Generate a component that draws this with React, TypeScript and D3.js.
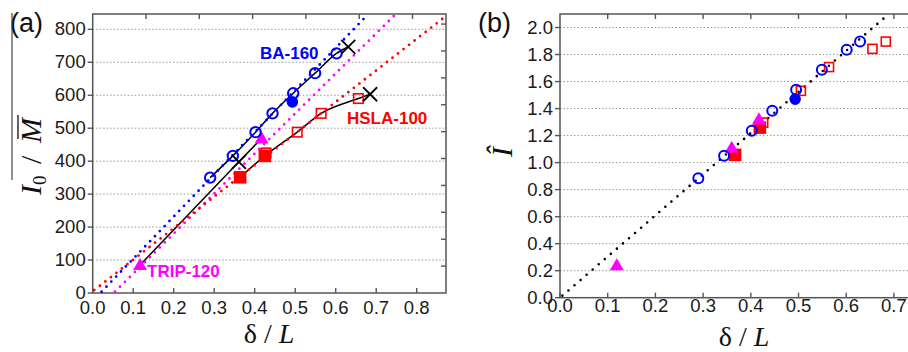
import React from 'react';
import * as d3 from 'd3';

const W = 908;
const H = 352;

// ---- Panel (a): I0 / M̄ against δ/L ----
const baX = [0.29, 0.346, 0.402, 0.444, 0.495, 0.549, 0.602];
const baV = [350, 416, 488, 545, 606, 667, 727];
const baFilledX = [0.493];
const baFilledV = [580];
const baFailX = [0.631];
const baFailV = [747];

const hslaOpenX = [0.428, 0.505, 0.564, 0.656];
const hslaOpenV = [425, 488, 545, 590];
const hslaFilledX = [0.364, 0.425];
const hslaFilledV = [351, 416];
const hslaFailX = [0.685];
const hslaFailV = [603];

const tripX = [0.117, 0.417];
const tripV = [85, 469];
const tripFailX = [0.361];
const tripFailV = [398];

// straight fits (end points)
const baFit = [[0.022, 4], [0.68, 846]];
const tripFit = [[0.055, 4], [0.748, 846]];
const hslaFit = [[0.004, 9], [0.872, 840]];

const xTicksA = [0, 0.1, 0.2, 0.3, 0.4, 0.5, 0.6, 0.7, 0.8];
const yTicksA = [0, 100, 200, 300, 400, 500, 600, 700, 800];

// ---- Panel (b): Î against δ/L ----
const baBX = [0.29, 0.344, 0.402, 0.445, 0.495, 0.549, 0.601, 0.629];
const baBY = [0.884, 1.05, 1.235, 1.383, 1.539, 1.687, 1.835, 1.896];
const baBFilledX = [0.493];
const baBFilledY = [1.47];
const hslaBOpenX = [0.426, 0.505, 0.564, 0.655, 0.683];
const hslaBOpenY = [1.296, 1.531, 1.707, 1.842, 1.896];
const hslaBFilledX = [0.367, 0.419];
const hslaBFilledY = [1.057, 1.259];
const tripBX = [0.119, 0.36, 0.417];
const tripBY = [0.24, 1.11, 1.32];
const unityLine = [[0.005, 0.015], [0.686, 2.09]];

const xTicksB = [0, 0.1, 0.2, 0.3, 0.4, 0.5, 0.6, 0.7];
const yTicksB = [0, 0.2, 0.4, 0.6, 0.8, 1.0, 1.2, 1.4, 1.6, 1.8, 2.0];

const BLUE = '#0000ff';
const RED = '#ff0000';
const MAGENTA = '#ff00ff';
const FRAME = '#555555';
const SANS = '"Liberation Sans", Arial, sans-serif';
const SERIF = '"Liberation Serif", "Times New Roman", serif';

const zip = (xs: number[], ys: number[]) => xs.map((x, i) => [x, ys[i]] as [number, number]);

function Circle({ cx, cy, r, color, filled }: any) {
  return <circle cx={cx} cy={cy} r={r} fill={filled ? color : 'none'} stroke={color} strokeWidth={2} />;
}
function Square({ cx, cy, s, color, filled }: any) {
  return (
    <rect x={cx - s / 2} y={cy - s / 2} width={s} height={s}
      fill={filled ? color : 'white'} fillOpacity={filled ? 1 : 0} stroke={color} strokeWidth={1.6} />
  );
}
const triPath = d3.symbol(d3.symbolTriangle, 85)() as string;
function Tri({ cx, cy }: any) {
  return <path d={triPath} transform={`translate(${cx},${cy + 1})`} fill={MAGENTA} />;
}
function Cross({ cx, cy, s }: any) {
  const h = s / 2;
  return (
    <g stroke="#000" strokeWidth={1.8}>
      <line x1={cx - h} y1={cy - h} x2={cx + h} y2={cy + h} />
      <line x1={cx - h} y1={cy + h} x2={cx + h} y2={cy - h} />
    </g>
  );
}

function Frame({ x, y, x0, x1, y0, y1, topTicks, rightTicks, xTicks, yTicks, xFmt, yFmt, labelBase, grid }: any) {
  const T = 5;
  return (
    <g>
      {grid.map((v: number) => (
        <line key={'g' + v} x1={x0} x2={x1} y1={y(v)} y2={y(v)} stroke="#9a9a9a" strokeWidth={1} strokeDasharray="1.5 2" />
      ))}
      {xTicks.map((v: number) => (
        <g key={'x' + v}>
          <line x1={x(v)} x2={x(v)} y1={y0} y2={y0 - T} stroke={FRAME} strokeWidth={1.4} />
          <text x={x(v)} y={labelBase} textAnchor="middle" fontFamily={SANS} fontSize={18.5} fill="#1a1a1a">{xFmt(v)}</text>
        </g>
      ))}
      {topTicks.map((px: number, i: number) => (
        <line key={'t' + i} x1={px} x2={px} y1={y1} y2={y1 + T} stroke={FRAME} strokeWidth={1.4} />
      ))}
      {rightTicks.map((py: number, i: number) => (
        <line key={'r' + i} x1={x1} x2={x1 - T} y1={py} y2={py} stroke={FRAME} strokeWidth={1.4} />
      ))}
      {yTicks.map((v: number) => (
        <g key={'y' + v}>
          <line x1={x0} x2={x0 - T} y1={y(v)} y2={y(v)} stroke={FRAME} strokeWidth={1.4} />
          <text x={x0 - 7} y={y(v)} dy="0.33em" textAnchor="end" fontFamily={SANS} fontSize={18.5} fill="#1a1a1a">{yFmt(v)}</text>
        </g>
      ))}
      <rect x={x0} y={y1} width={x1 - x0} height={y0 - y1} fill="none" stroke={FRAME} strokeWidth={1.5} />
    </g>
  );
}

export default function App() {
  // panel (a)
  const a = { x0: 92.7, x1: 446, y0: 293, y1: 14 };
  const xA = d3.scaleLinear().domain([0, 0.8723]).range([a.x0, a.x1]);
  const yA = d3.scaleLinear().domain([0, 846.5]).range([a.y0, a.y1]);
  const lineA = d3.line<[number, number]>().x((d) => xA(d[0])).y((d) => yA(d[1]));
  const curveA = d3.line<[number, number]>().x((d) => xA(d[0])).y((d) => yA(d[1])).curve(d3.curveMonotoneX);

  // secondary axes of panel (a) carry their own tick spacing
  const topStepA = 0.1316;
  const rightStepA = 81.6;
  const topTicksA = d3.range(1, 7).map((k) => xA(k * topStepA));
  const rightTicksA = d3.range(1, 11).map((k) => yA(k * rightStepA)).filter((p) => p > a.y1 + 2);

  // panel (b)
  const b = { x0: 560, x1: 927.3, y0: 297.7, y1: 14 };
  const xB = d3.scaleLinear().domain([0, 0.77]).range([b.x0, b.x1]);
  const yB = d3.scaleLinear().domain([0, 2.1]).range([b.y0, b.y1]);
  const lineB = d3.line<[number, number]>().x((d) => xB(d[0])).y((d) => yB(d[1]));
  const topTicksB = xTicksB.slice(1).map((v) => xB(v));

  const baCurve = zip([...baX, ...baFailX], [...baV, ...baFailV]);
  const hslaCurve = zip([...hslaFilledX, 0.505, 0.564, 0.656, ...hslaFailX], [...hslaFilledV, 488, 545, 590, ...hslaFailV]);
  const tripCurve = zip([tripX[0], tripFailX[0], tripX[1]], [tripV[0], tripFailV[0], tripV[1]]);

  const dot = { strokeLinecap: 'round' as const, fill: 'none' };

  return (
    <svg width={W} height={H} style={{ position: 'absolute', left: 0, top: 0, display: 'block', background: '#fff' }}>
      {/* ---------------- (a) ---------------- */}
      <Frame x={xA} y={yA} {...a} topTicks={topTicksA} rightTicks={rightTicksA}
        xTicks={xTicksA} yTicks={yTicksA} xFmt={d3.format('.1f')} yFmt={d3.format('d')}
        labelBase={314} grid={yTicksA.slice(1)} />
      <defs>
        <clipPath id="clipA"><rect x={a.x0} y={a.y1} width={a.x1 - a.x0} height={a.y0 - a.y1} /></clipPath>
        <clipPath id="clipB"><rect x={b.x0} y={b.y1} width={b.x1 - b.x0} height={b.y0 - b.y1} /></clipPath>
      </defs>
      <g clipPath="url(#clipA)">
        <path d={curveA(baCurve) as string} stroke="#000" strokeWidth={1.5} fill="none" />
        <path d={curveA(hslaCurve) as string} stroke="#000" strokeWidth={1.5} fill="none" />
        <path d={lineA(tripCurve) as string} stroke="#000" strokeWidth={1.5} fill="none" />
        <path d={lineA(baFit as any) as string} stroke={BLUE} strokeWidth={2.8} strokeDasharray="0 7" {...dot} />
        <path d={lineA(tripFit as any) as string} stroke={MAGENTA} strokeWidth={2.8} strokeDasharray="0 7" {...dot} />
        <path d={lineA(hslaFit as any) as string} stroke={RED} strokeWidth={2.8} strokeDasharray="0 7" {...dot} />
      </g>
      {zip(hslaOpenX, hslaOpenV).map(([x, v], i) => <Square key={'ho' + i} cx={xA(x)} cy={yA(v)} s={9.5} color={RED} />)}
      {zip(hslaFilledX, hslaFilledV).map(([x, v], i) => <Square key={'hf' + i} cx={xA(x)} cy={yA(v)} s={11} color={RED} filled />)}
      {zip(tripX, tripV).map(([x, v], i) => <Tri key={'tr' + i} cx={xA(x)} cy={yA(v)} />)}
      {zip(baX, baV).map(([x, v], i) => <Circle key={'bo' + i} cx={xA(x)} cy={yA(v)} r={5.2} color={BLUE} />)}
      {zip(baFilledX, baFilledV).map(([x, v], i) => <Circle key={'bf' + i} cx={xA(x)} cy={yA(v)} r={4.8} color={BLUE} filled />)}
      {zip([...baFailX, ...hslaFailX, ...tripFailX], [...baFailV, ...hslaFailV, ...tripFailV]).map(([x, v], i) => (
        <Cross key={'x' + i} cx={xA(x)} cy={yA(v)} s={14} />
      ))}
      <text x={260} y={59} fontFamily={SANS} fontWeight="bold" fontSize={17} fill={BLUE}>BA-160</text>
      <text x={347} y={124} fontFamily={SANS} fontWeight="bold" fontSize={17} fill={RED}>HSLA-100</text>
      <text x={147} y={277} fontFamily={SANS} fontWeight="bold" fontSize={17} fill={MAGENTA}>TRIP-120</text>

      <text x={10} y={32} fontFamily={SANS} fontSize={27} fill="#111">(a)</text>
      <line x1={12} x2={12} y1={13} y2={180} stroke="#333" strokeWidth={1.1} />
      <g transform="translate(41,155) rotate(-90)" fill="#111">
        <text fontFamily={SERIF} fontSize={30}>
          <tspan x={-40} fontStyle="italic">I</tspan>
          <tspan x={-30} dy={5} fontSize={19}>0</tspan>
          <tspan x={-9} dy={-5}>/</tspan>
          <tspan x={12} fontStyle="italic">M</tspan>
        </text>
        <line x1={16} x2={40} y1={-23} y2={-23} stroke="#111" strokeWidth={1.3} />
      </g>
      <text x={269} y={343} textAnchor="middle" fontFamily={SERIF} fontSize={28} fill="#111">
        δ / <tspan fontStyle="italic">L</tspan>
      </text>

      {/* ---------------- (b) ---------------- */}
      <Frame x={xB} y={yB} {...b} topTicks={topTicksB} rightTicks={[]}
        xTicks={xTicksB} yTicks={yTicksB} xFmt={d3.format('.1f')} yFmt={d3.format('.1f')}
        labelBase={312} grid={yTicksB.slice(1)} />
      <g clipPath="url(#clipB)">
        <path d={lineB(unityLine as any) as string} stroke="#000" strokeWidth={2.6} strokeDasharray="0 8" {...dot} />
      </g>
      {zip(hslaBOpenX, hslaBOpenY).map(([x, v], i) => <Square key={'bho' + i} cx={xB(x)} cy={yB(v)} s={9} color={RED} />)}
      {zip(hslaBFilledX, hslaBFilledY).map(([x, v], i) => <Square key={'bhf' + i} cx={xB(x)} cy={yB(v)} s={11} color={RED} filled />)}
      {zip(tripBX, tripBY).map(([x, v], i) => <Tri key={'btr' + i} cx={xB(x)} cy={yB(v)} />)}
      {zip(baBX, baBY).map(([x, v], i) => <Circle key={'bbo' + i} cx={xB(x)} cy={yB(v)} r={5} color={BLUE} />)}
      {zip(baBFilledX, baBFilledY).map(([x, v], i) => <Circle key={'bbf' + i} cx={xB(x)} cy={yB(v)} r={4.8} color={BLUE} filled />)}

      <text x={478} y={32} fontFamily={SANS} fontSize={27} fill="#111">(b)</text>
      <g transform="translate(512,152) rotate(-90)">
        <text textAnchor="middle" fontFamily={SERIF} fontSize={30} fontStyle="italic" fill="#111">Î</text>
      </g>
      <text x={744} y={346} textAnchor="middle" fontFamily={SERIF} fontSize={28} fill="#111">
        δ / <tspan fontStyle="italic">L</tspan>
      </text>
    </svg>
  );
}
